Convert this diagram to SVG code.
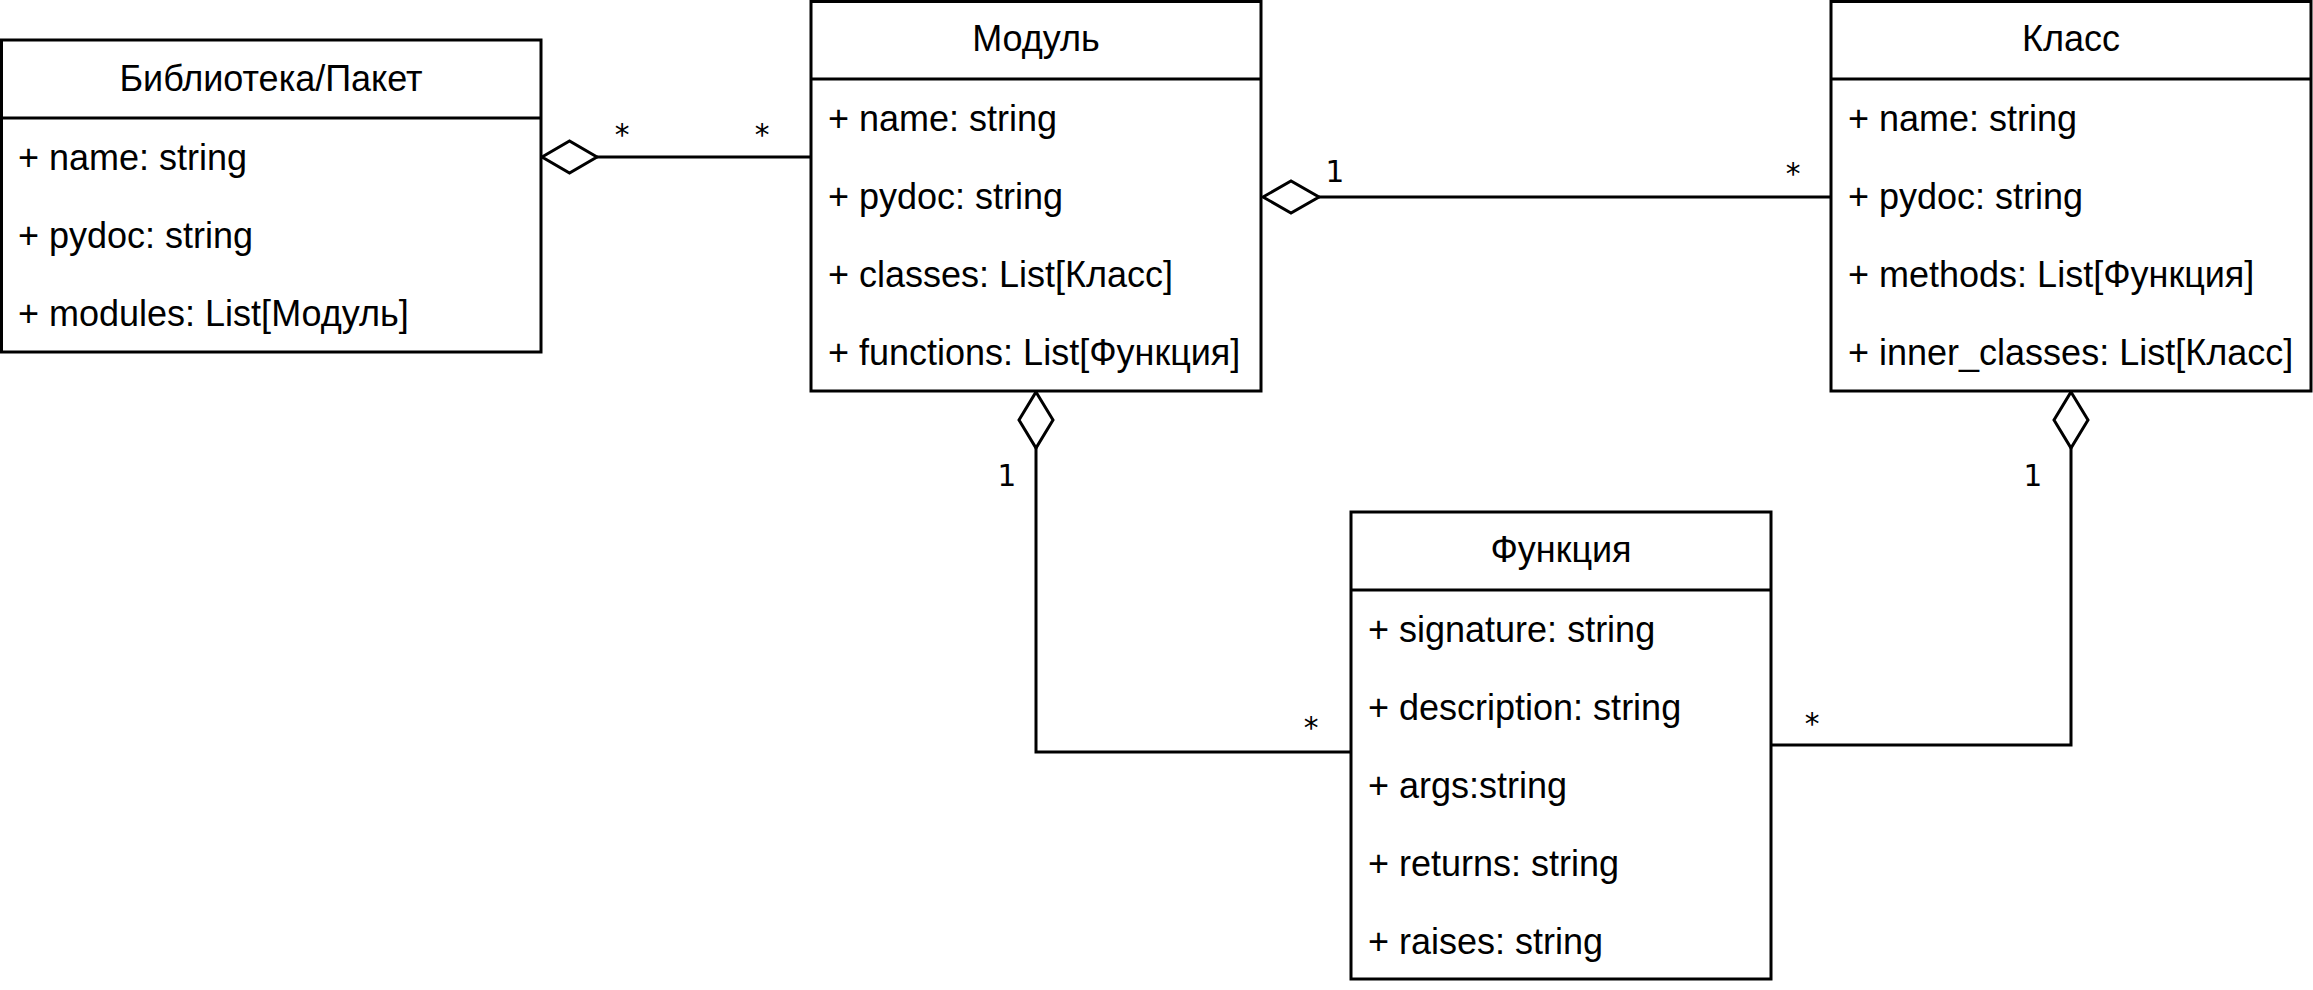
<svg xmlns="http://www.w3.org/2000/svg" width="2313" height="990" viewBox="0 0 2313 990">
<style>
.box{fill:#fff;stroke:#000;stroke-width:3}
.sep{stroke:#000;stroke-width:3}
.t{font-family:"Liberation Sans",Arial,sans-serif;font-size:36px;fill:#000}
.h{text-anchor:middle}
.edge{fill:none;stroke:#000;stroke-width:3}
.dia{fill:#fff;stroke:#000;stroke-width:3;stroke-linejoin:miter}
.lbl{font-family:"DejaVu Sans",sans-serif;font-size:29.5px;fill:#000;text-anchor:middle}
</style>
<rect width="2313" height="990" fill="#fff"/>
<g id="connectors">
  <g id="lib-module">
    <line class="edge" x1="597" y1="157" x2="811" y2="157"/>
    <polygon class="dia" points="542,157 569.5,141 597,157 569.5,173"/>
    <text class="lbl" x="622" y="145">*</text>
    <text class="lbl" x="762" y="145">*</text>
  </g>
  <g id="module-class">
    <line class="edge" x1="1319" y1="197" x2="1831" y2="197"/>
    <polygon class="dia" points="1263,197 1291,181 1319,197 1291,213"/>
    <text class="lbl" x="1335" y="182">1</text>
    <text class="lbl" x="1793" y="184">*</text>
  </g>
  <g id="module-function">
    <polyline class="edge" points="1036,448 1036,752 1351,752"/>
    <polygon class="dia" points="1036,392 1053,420 1036,448 1019,420"/>
    <text class="lbl" x="1007" y="486">1</text>
    <text class="lbl" x="1311" y="738">*</text>
  </g>
  <g id="class-function">
    <polyline class="edge" points="2071,448 2071,745 1771,745"/>
    <polygon class="dia" points="2071,392 2088,420 2071,448 2054,420"/>
    <text class="lbl" x="2033" y="486">1</text>
    <text class="lbl" x="1812" y="734">*</text>
  </g>
</g>
<g id="node-library">
  <rect class="box" x="1.5" y="40" width="539.5" height="312"/>
  <line class="sep" x1="1.5" y1="118" x2="541" y2="118"/>
  <text class="t h" x="271" y="90.5">Библиотека/Пакет</text>
  <text class="t" x="18" y="170">+ name: string</text>
  <text class="t" x="18" y="248">+ pydoc: string</text>
  <text class="t" x="18" y="326">+ modules: List[Модуль]</text>
</g>
<g id="node-module">
  <rect class="box" x="811" y="1.5" width="450" height="389.5"/>
  <line class="sep" x1="811" y1="79" x2="1261" y2="79"/>
  <text class="t h" x="1036" y="51">Модуль</text>
  <text class="t" x="828" y="131">+ name: string</text>
  <text class="t" x="828" y="209">+ pydoc: string</text>
  <text class="t" x="828" y="287">+ classes: List[Класс]</text>
  <text class="t" x="828" y="365">+ functions: List[Функция]</text>
</g>
<g id="node-class">
  <rect class="box" x="1831" y="1.5" width="480" height="389.5"/>
  <line class="sep" x1="1831" y1="79" x2="2311" y2="79"/>
  <text class="t h" x="2071" y="51">Класс</text>
  <text class="t" x="1848" y="131">+ name: string</text>
  <text class="t" x="1848" y="209">+ pydoc: string</text>
  <text class="t" x="1848" y="287">+ methods: List[Функция]</text>
  <text class="t" x="1848" y="365">+ inner_classes: List[Класс]</text>
</g>
<g id="node-function">
  <rect class="box" x="1351" y="512" width="420" height="467"/>
  <line class="sep" x1="1351" y1="590" x2="1771" y2="590"/>
  <text class="t h" x="1561" y="562">Функция</text>
  <text class="t" x="1368" y="642">+ signature: string</text>
  <text class="t" x="1368" y="720">+ description: string</text>
  <text class="t" x="1368" y="798">+ args:string</text>
  <text class="t" x="1368" y="876">+ returns: string</text>
  <text class="t" x="1368" y="954">+ raises: string</text>
</g>
</svg>
